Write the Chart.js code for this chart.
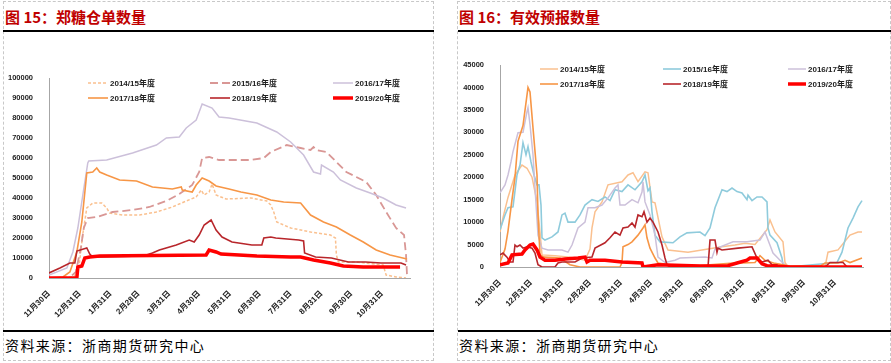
<!DOCTYPE html>
<html>
<head>
<meta charset="utf-8">
<script src="https://cdn.jsdelivr.net/npm/chart.js@4.4.0/dist/chart.umd.min.js"></script>
<style>
  body { margin: 0; width: 891px; height: 363px; background: #fff; position: relative; overflow: hidden; font-family: "Noto Sans CJK SC", sans-serif; }
  .panel { position: absolute; top: 1px; height: 360px; border: 1px dashed #c8c8c8; box-sizing: border-box; }
  .title { position: absolute; top: 9px; font-size: 15px; line-height: 16px; font-weight: bold; color: #c00000; }
  .rule { position: absolute; height: 2px; background: #000; }
  .src { position: absolute; top: 337px; font-size: 14px; line-height: 16px; letter-spacing: 1.4px; color: #000; }
  canvas { position: absolute; top: 32px; }
</style>
</head>
<body>
<div class="panel" style="left:3px;width:431px"></div>
<div class="panel" style="left:457px;width:434px"></div>

<div class="title" style="left:5px">图 15：郑糖仓单数量</div>
<div class="title" style="left:459px">图 16：有效预报数量</div>
<div class="rule" style="left:3px;width:431px;top:30px"></div>
<div class="rule" style="left:458px;width:433px;top:30px"></div>
<div class="rule" style="left:3px;width:431px;top:330px"></div>
<div class="rule" style="left:458px;width:433px;top:330px"></div>
<div class="src" style="left:5px">资料来源：浙商期货研究中心</div>
<div class="src" style="left:459px">资料来源：浙商期货研究中心</div>

<canvas id="warrants" width="430" height="298" style="left:3px"></canvas>
<canvas id="forecasts" width="434" height="298" style="left:455px"></canvas>

<script>
// seasons, x = days after 11月30日
const seasons = ["2014/15年度", "2015/16年度", "2016/17年度", "2017/18年度", "2018/19年度", "2019/20年度"];
const tickDays = [0, 31, 62, 90, 121, 151, 182, 212, 243, 274, 304, 335];
const tickLabels = ["11月30日", "12月31日", "1月31日", "2月28日", "3月31日", "4月30日", "5月31日", "6月30日", "7月31日", "8月31日", "9月30日", "10月31日"];

// 图15 郑糖仓单数量
const warrants1415 = [[0,0],[25,500],[30,5000],[34,22000],[38,35000],[44,37500],[53,37500],[58,35000],[61,32500],[74,31500],[91,31500],[108,33000],[124,35500],[138,38500],[148,40500],[153,44000],[156,41500],[161,43000],[164,47000],[168,41500],[178,39500],[203,40000],[219,38500],[223,36500],[226,33000],[229,28000],[243,25000],[263,23000],[283,21500],[288,20000],[289,11500],[291,8000],[309,8000],[336,6500],[339,1500],[349,500],[359,0]];
const warrants1516 = [[0,0],[20,0],[27,3000],[32,15000],[35,25000],[39,30000],[48,30500],[64,33000],[84,34000],[101,35500],[118,38500],[131,42000],[144,46500],[151,53000],[154,60000],[161,60500],[171,59000],[203,59000],[216,60000],[223,63000],[239,66500],[253,65000],[263,64000],[266,65500],[269,64000],[279,63000],[289,58000],[299,53000],[309,50500],[319,48000],[329,41500],[339,33000],[349,25000],[357,21500],[359,11500],[360,1500]];
const warrants1617 = [[0,1500],[18,5000],[24,13000],[29,25000],[34,41500],[39,57500],[40,58500],[58,59000],[84,62500],[108,66500],[118,70000],[131,70500],[138,75000],[148,79000],[154,87000],[164,85000],[171,80500],[181,80000],[209,77500],[229,73000],[243,68000],[256,61500],[266,53000],[273,52000],[274,56500],[286,53000],[293,49000],[309,45000],[323,42500],[336,40000],[349,36500],[359,35000]];
const warrants1718 = [[0,0],[14,500],[21,3000],[28,13000],[33,28000],[38,52500],[44,53000],[48,55000],[51,53000],[58,51500],[71,49000],[88,48500],[104,45500],[124,44500],[133,45500],[134,44000],[144,43000],[148,46500],[154,50000],[161,48500],[168,46000],[181,44500],[193,43000],[209,41500],[223,39000],[236,38000],[253,37500],[263,31500],[276,28000],[289,25500],[303,21500],[316,18000],[329,14000],[343,11500],[360,9500]];
const warrants1819 = [[0,2500],[11,5000],[21,7500],[26,7500],[28,13500],[38,15000],[41,12000],[44,10500],[51,10500],[95,11000],[104,12500],[111,14000],[128,16500],[141,19000],[146,18000],[151,21500],[156,26500],[163,29000],[168,24000],[174,20500],[184,18000],[204,16500],[214,16500],[216,20000],[223,20500],[228,20000],[251,19000],[256,18500],[257,12500],[268,10500],[284,10000],[301,8000],[318,8000],[334,7500],[354,7500],[359,6500]];
const warrants1920 = [[0,0],[28,0],[29,5500],[33,6000],[36,10000],[41,10500],[51,11000],[158,11500],[161,14000],[168,13000],[173,12000],[209,11000],[243,10500],[253,10500],[266,9000],[283,7500],[296,6000],[316,5500],[353,5500]];

// 图16 有效预报数量
const forecast1415 = [[0,7800],[3,11000],[8,15500],[15,20500],[22,22700],[27,22000],[32,20000],[37,14500],[40,7800],[42,2700],[55,2500],[70,2200],[85,1500],[90,4000],[92,8700],[95,12300],[102,14500],[108,18300],[122,19000],[128,20500],[133,21000],[138,19000],[145,21200],[148,21000],[152,14500],[155,14300],[162,6700],[168,3800],[188,3300],[222,4500],[235,4900],[245,5300],[255,5000],[267,8300],[270,10500],[275,7800],[283,5600],[285,1000],[288,0],[325,0],[328,3300],[338,3800],[350,7100],[358,7800],[362,7800]];
const forecast1516 = [[0,8300],[5,11600],[8,13200],[13,13400],[17,20500],[20,22700],[23,27700],[26,25000],[28,26800],[31,23400],[34,20500],[37,18300],[39,18300],[41,13800],[42,6500],[45,6000],[52,6700],[58,7800],[62,11600],[65,12000],[68,10000],[75,10000],[80,11600],[85,13800],[92,15000],[98,14600],[105,15600],[110,14800],[115,17200],[122,16800],[128,18300],[135,17200],[142,19000],[145,20500],[148,17000],[150,17600],[152,12300],[155,7100],[160,5600],[173,5400],[180,6700],[187,7600],[200,7800],[205,7000],[210,8700],[215,13200],[222,17200],[227,16800],[232,17600],[237,16800],[242,16500],[247,15000],[248,16000],[252,14800],[257,15600],[262,15600],[267,14500],[268,8700],[270,7100],[277,5400],[282,2000],[283,500],[288,0],[337,1000],[342,3300],[348,8700],[353,10900],[358,13400],[362,14800]];
const forecast1617 = [[0,16500],[5,18300],[8,20500],[11,23400],[13,25700],[18,29900],[23,30000],[27,34600],[28,35500],[30,31700],[33,25000],[35,17600],[38,7100],[42,4200],[48,3800],[62,3800],[68,3300],[72,4900],[78,8700],[85,10000],[88,13200],[95,13200],[102,13800],[108,15400],[115,17600],[118,18300],[120,13800],[125,13800],[132,15000],[138,14300],[142,16700],[143,19000],[145,14500],[150,11600],[155,7100],[158,2200],[165,1000],[175,1500],[180,2000],[205,2200],[212,2000],[215,4000],[233,5600],[247,5600],[260,6000],[265,7800],[268,6000],[273,3100],[280,1500],[285,500],[290,0],[362,0]];
const forecast1718 = [[0,1000],[5,4000],[8,8000],[12,15000],[15,20000],[18,28000],[23,31500],[28,40000],[30,39000],[33,31000],[37,20500],[38,11500],[40,2700],[44,2200],[60,2000],[70,500],[80,0],[120,0],[122,1000],[123,4500],[128,5000],[132,5600],[138,7100],[143,8700],[145,9400],[147,6500],[150,4200],[155,2000],[158,900],[170,500],[200,300],[230,800],[255,1000],[260,2500],[265,1500],[275,800],[290,200],[320,200],[325,900],[338,900],[345,1500],[350,1000],[362,2000]];
const forecast1819 = [[0,2700],[3,3100],[7,2200],[10,1100],[13,1100],[15,4900],[17,4500],[20,4900],[23,4200],[27,4500],[32,4200],[35,3100],[38,500],[42,0],[55,0],[58,900],[62,1100],[75,1100],[82,2000],[92,2200],[95,4200],[105,5400],[110,6500],[115,7800],[120,7100],[123,8700],[128,8900],[132,9800],[135,8900],[138,11600],[142,11200],[144,12300],[147,10000],[150,10900],[153,10000],[158,7800],[162,4900],[165,2000],[167,500],[170,0],[208,0],[210,6000],[215,6000],[217,3300],[218,4200],[222,3800],[238,4200],[252,4500],[257,2000],[262,1100],[268,1500],[272,500],[277,500],[278,0],[325,0],[330,1000],[343,1000],[347,0],[362,0]];
const forecast1920 = [[0,500],[8,900],[12,2700],[22,2900],[25,3800],[30,4900],[33,5100],[37,3800],[40,2200],[45,1500],[55,1500],[65,1800],[78,2000],[85,2200],[87,1100],[90,1500],[105,1500],[122,1100],[142,900],[143,0],[158,500],[200,200],[228,300],[237,900],[247,1500],[250,2000],[257,2000],[262,700],[267,300],[290,0],[362,0]];

const AXIS_FONT = '"Liberation Sans", "Noto Sans CJK SC", sans-serif';

const gridLegend = {
  id: "gridLegend",
  afterDraw(chart, args, opts) {
    const { ctx, chartArea } = chart;
    ctx.save();
    ctx.font = "bold 8px " + AXIS_FONT;
    ctx.textBaseline = "middle";
    ctx.fillStyle = "#222";
    chart.data.datasets.forEach((ds, i) => {
      const x = chartArea.left + opts.cols[i % 3];
      const y = chartArea.top + opts.rows[Math.floor(i / 3)];
      ctx.beginPath();
      ctx.strokeStyle = ds.borderColor;
      ctx.lineWidth = ds.borderWidth;
      ctx.setLineDash(ds.borderDash || []);
      ctx.moveTo(x, y);
      ctx.lineTo(x + opts.sample, y);
      ctx.stroke();
      ctx.setLineDash([]);
      ctx.fillText(ds.label, x + opts.sample + 2, y + 0.5);
    });
    ctx.restore();
  },
};

function buildChart(id, series, styles, yMax, yStep, layout) {
  const datasets = series.map((pts, i) => ({
    label: seasons[i],
    data: pts.map(([x, y]) => ({ x, y })),
    borderColor: styles[i].color,
    borderWidth: styles[i].width,
    borderDash: styles[i].dash || [],
    pointRadius: 0,
    tension: 0,
    fill: false,
    order: series.length - i,
  }));

  return new Chart(document.getElementById(id), {
    type: "line",
    data: { datasets },
    options: {
      responsive: false,
      animation: false,
      devicePixelRatio: 1,
      layout: { padding: { top: layout.top, right: layout.right, left: 0, bottom: 0 } },
      plugins: {
        legend: { display: false },
        tooltip: { enabled: false },
        gridLegend: { cols: layout.legendCols, rows: layout.legendRows, sample: layout.sample },
      },
      scales: {
        x: {
          type: "linear",
          min: 0,
          max: 363,
          grid: { display: false },
          border: { display: true, color: "#a6a6a6", width: 1 },
          afterBuildTicks: (axis) => {
            axis.ticks = tickDays.map((v) => ({ value: v }));
          },
          afterFit: (axis) => {
            axis.height = layout.xHeight;
          },
          ticks: {
            autoSkip: false,
            minRotation: 45,
            maxRotation: 45,
            padding: 3,
            color: "#222",
            font: { family: AXIS_FONT, size: 8, weight: "bold" },
            callback: (v) => tickLabels[tickDays.indexOf(v)],
          },
        },
        y: {
          min: 0,
          max: yMax,
          grid: { display: false },
          border: { display: true, color: "#a6a6a6", width: 1 },
          afterFit: (axis) => {
            axis.width = layout.yWidth;
          },
          ticks: {
            stepSize: yStep,
            padding: 8,
            color: "#222",
            font: { family: AXIS_FONT, size: 7.5, weight: "bold" },
            callback: (v) => String(v),
          },
        },
      },
    },
    plugins: [gridLegend],
  });
}

buildChart(
  "warrants",
  [warrants1415, warrants1516, warrants1617, warrants1718, warrants1819, warrants1920],
  [
    { color: "#fac08f", width: 1.5, dash: [3, 2] },
    { color: "#d99795", width: 1.8, dash: [8, 4] },
    { color: "#ccc0da", width: 1.5 },
    { color: "#f79646", width: 1.6 },
    { color: "#b8262b", width: 1.6 },
    { color: "#ff0000", width: 3.5 },
  ],
  100000,
  10000,
  { top: 46, right: 23, yWidth: 46, xHeight: 52, legendCols: [39, 161, 284], legendRows: [5, 20], sample: 20 }
);

buildChart(
  "forecasts",
  [forecast1415, forecast1516, forecast1617, forecast1718, forecast1819, forecast1920],
  [
    { color: "#fac08f", width: 1.5 },
    { color: "#8fcbdc", width: 1.6 },
    { color: "#ccc0da", width: 1.5 },
    { color: "#f79646", width: 1.6 },
    { color: "#b8262b", width: 1.6 },
    { color: "#ff0000", width: 3.5 },
  ],
  45000,
  5000,
  { top: 33, right: 26, yWidth: 45, xHeight: 63, legendCols: [40, 163, 288], legendRows: [4, 19], sample: 18 }
);
</script>
</body>
</html>
